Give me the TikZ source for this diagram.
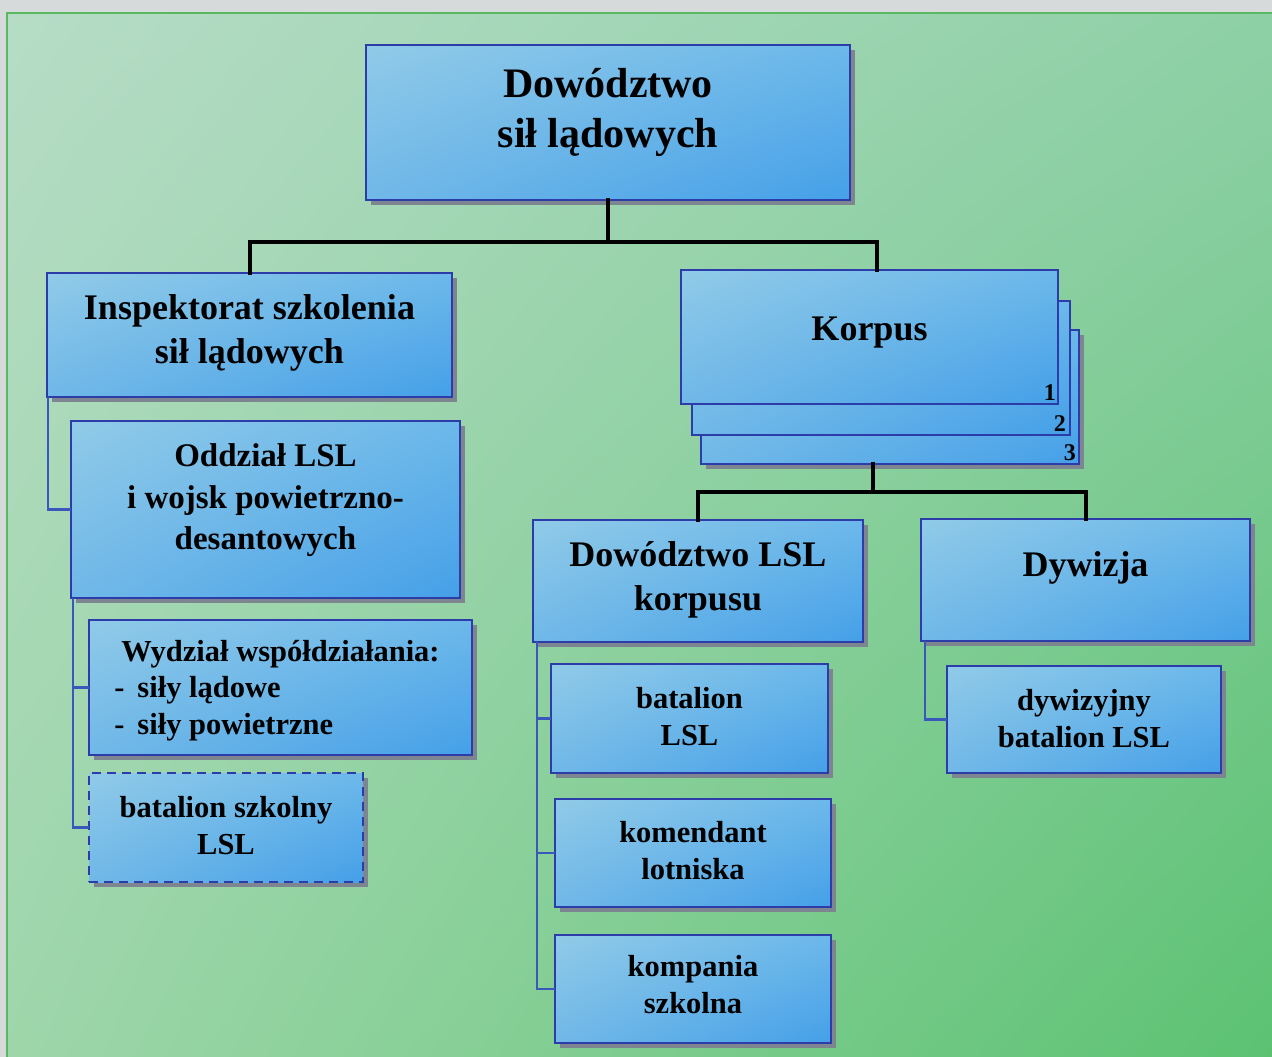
\documentclass[tikz,border=0pt]{standalone}
\usepackage{fontspec}
\setmainfont{Liberation Serif}
\usetikzlibrary{shadows,shadings}

\definecolor{pagegray}{HTML}{D6DADB}
\definecolor{bgUL}{HTML}{B6DCC6}
\definecolor{bgUR}{HTML}{8ED0A6}
\definecolor{bgLL}{HTML}{9ED6AA}
\definecolor{bgLR}{HTML}{5CC272}
\definecolor{panelrim}{HTML}{5AB862}
\definecolor{boxUL}{HTML}{90CAE8}
\definecolor{boxUR}{HTML}{6CB8EA}
\definecolor{boxLL}{HTML}{70B8E8}
\definecolor{boxLR}{HTML}{45A0E8}
\definecolor{rim}{HTML}{2C3CA8}
\definecolor{shadowgray}{HTML}{7C8590}
\definecolor{branchblue}{HTML}{3A58BC}

\begin{document}
\begin{tikzpicture}[x=1pt,y=-1pt,
  unit/.style={draw=rim, line width=2pt, inner sep=0pt, outer sep=0pt,
    upper left=boxUL, upper right=boxUR, lower left=boxLL, lower right=boxLR},
  shadowed/.style={unit,
    general shadow={fill=shadowgray, shadow xshift=5pt, shadow yshift=-5pt}},
  sz/.style 2 args={minimum width=#1pt, minimum height=#2pt},
  txt/.style={align=center, inner sep=0pt},
  fA/.style={font=\fontsize{42}{50}\selectfont\bfseries},
  fB/.style={font=\fontsize{36}{44}\selectfont\bfseries},
  fC/.style={font=\fontsize{33}{41.5}\selectfont\bfseries},
  fD/.style={font=\fontsize{30.5}{37}\selectfont\bfseries},
  num/.style={font=\fontsize{24}{24}\selectfont\bfseries, inner sep=0pt, anchor=south east},
  trunk/.style={line width=4pt, black, line cap=rect},
  branch/.style={line width=2.2pt, branchblue}
]
\useasboundingbox (0,0) rectangle (1272,1057);

% page and green panel
\fill[pagegray] (0,0) rectangle (1272,1057);
\shade[upper left=bgUL, upper right=bgUR, lower left=bgLL, lower right=bgLR]
  (7,13) rectangle (1272,1057);
\draw[panelrim, line width=1.5pt] (7,1057) -- (7,13) -- (1272,13);

% top level
\node[shadowed, sz={484}{155},
  label={[txt, fA, yshift=10pt]center:{Dowództwo\\sił lądowych}}] (top) at (608,122.5) {};

% second level
\node[shadowed, sz={405}{124},
  label={[txt, fB, yshift=2pt]center:{Inspektorat szkolenia\\sił lądowych}}] (insp) at (249.5,335) {};

% stacked corps boxes
\node[shadowed, sz={378}{134}] (korp3) at (890,397) {};
\node[unit, sz={378}{134}] (korp2) at (881,368) {};
\node[unit, sz={377}{134},
  label={[txt, fB, yshift=4pt]center:{Korpus}}] (korp1) at (869.5,337) {};
\node[num] (n3) at ([shift={(-3pt,3pt)}]korp3.south east) {3};
\node[num] (n2) at ([shift={(-4pt,3pt)}]korp2.south east) {2};
\node[num] (n1) at ([shift={(-2pt,3pt)}]korp1.south east) {1};

% training inspectorate branch
\node[shadowed, sz={389}{177},
  label={[txt, fC, yshift=9pt]center:{Oddział LSL\\i wojsk powietrzno-\\desantowych}}] (odd) at (265.5,509.5) {};
\node[shadowed, sz={383}{135},
  label={[txt, fD, yshift=-3pt, align=left]center:{Wydział współdziałania:\\[-1pt]
    \hspace*{-7pt}-\hspace{13pt}siły lądowe\\\hspace*{-7pt}-\hspace{13pt}siły powietrzne}}] (wyd) at (280.5,687.5) {};
\node[shadowed, sz={274}{109}, dashed, dash pattern=on 9pt off 6pt,
  label={[txt, fD, yshift=2pt]center:{batalion szkolny\\LSL}}] (bszk) at (226,827.5) {};

% corps branch
\node[shadowed, sz={330}{122},
  label={[txt, fB, yshift=1pt]center:{Dowództwo LSL\\korpusu}}] (dlsl) at (698,581) {};
\node[shadowed, sz={329}{122},
  label={[txt, fB, yshift=12pt]center:{Dywizja}}] (dyw) at (1085.5,580) {};
\node[shadowed, sz={277}{109},
  label={[txt, fD, yshift=2pt]center:{batalion\\LSL}}] (blsl) at (689.5,718.5) {};
\node[shadowed, sz={276}{108},
  label={[txt, fD, yshift=2.5pt]center:{komendant\\lotniska}}] (kom) at (693,853) {};
\node[shadowed, sz={276}{108},
  label={[txt, fD, yshift=4pt]center:{kompania\\szkolna}}] (komp) at (693,989) {};
\node[shadowed, sz={274}{107},
  label={[txt, fD, yshift=1pt]center:{dywizyjny\\batalion LSL}}] (dbat) at (1084,719.5) {};

% main connectors
\draw[trunk] (top.south) -- ++(0,42) coordinate (hubA);
\draw[trunk] (insp.north) |- (hubA) -| ([xshift=7.5pt]korp1.north);
\draw[trunk] ([xshift=-17pt]korp3.south) -- ++(0,28) coordinate (hubB);
\draw[trunk] (dlsl.north) |- (hubB) -| (dyw.north);

% subordinate links
\draw[branch] ([xshift=1pt]insp.south west) |- (odd.west);
\draw[branch] ([xshift=2pt]odd.south west) |- (wyd.west);
\draw[branch] ([xshift=2pt]odd.south west) |- (bszk.west);
\draw[branch] ([xshift=4pt]dlsl.south west) |- (blsl.west);
\draw[branch] ([xshift=4pt]dlsl.south west) |- (kom.west);
\draw[branch] ([xshift=4pt]dlsl.south west) |- (komp.west);
\draw[branch] ([xshift=4pt]dyw.south west) |- (dbat.west);
\end{tikzpicture}
\end{document}
